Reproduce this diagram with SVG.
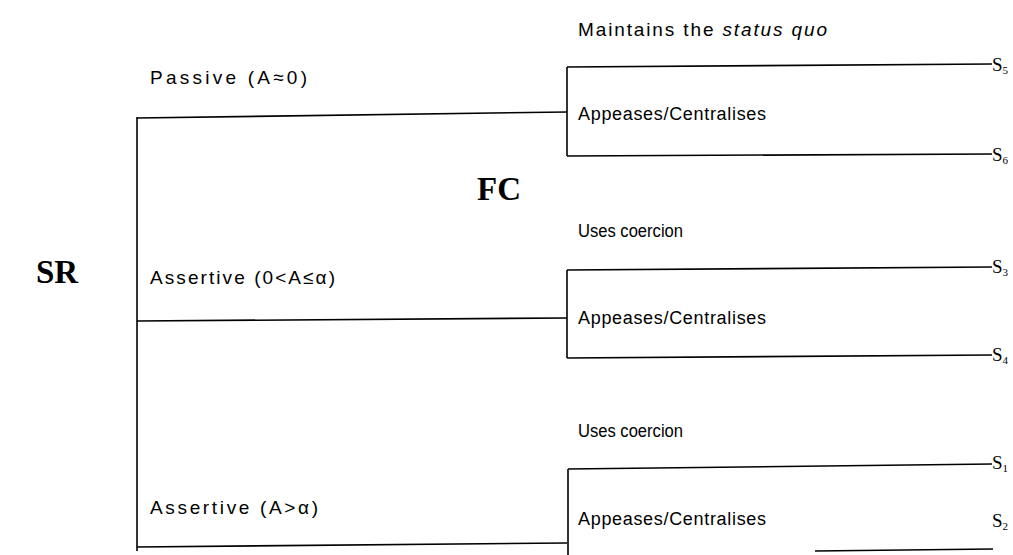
<svg xmlns="http://www.w3.org/2000/svg" width="1013" height="555" viewBox="0 0 1013 555">
<style>
.ln{stroke:#000;stroke-width:1.6;fill:none}
.lbl{font-family:"Liberation Sans",Arial,sans-serif;font-size:18px;fill:#000}
.wide{font-size:19px}
.big{font-family:"Liberation Serif","Times New Roman",serif;font-size:33px;font-weight:bold;fill:#000}
.s{font-family:"Liberation Serif","Times New Roman",serif;font-size:19px;fill:#000}
.sub{font-size:11px}
</style>
<rect width="1013" height="555" fill="#fff"/>
<g id="connectors">
<line class="ln" x1="137" y1="117" x2="137" y2="551"/>
<line class="ln" x1="137" y1="118" x2="567" y2="112"/>
<line class="ln" x1="137" y1="321" x2="567" y2="318"/>
<line class="ln" x1="137" y1="547" x2="567" y2="543"/>
<line class="ln" x1="567" y1="67" x2="567" y2="156"/>
<line class="ln" x1="567" y1="67" x2="992" y2="64"/>
<line class="ln" x1="567" y1="156" x2="992" y2="154"/>
<line class="ln" x1="567" y1="270" x2="567" y2="358"/>
<line class="ln" x1="567" y1="270" x2="992" y2="267"/>
<line class="ln" x1="567" y1="358" x2="992" y2="355"/>
<line class="ln" x1="568" y1="469" x2="568" y2="555"/>
<line class="ln" x1="568" y1="469" x2="992" y2="464"/>
<line class="ln" x1="815" y1="551" x2="993" y2="549"/>
</g>
<g id="SR"><text class="big" x="36" y="283">SR</text></g>
<g id="FC"><text class="big" x="477" y="200">FC</text></g>
<g id="passive"><text class="lbl wide" x="150" y="84" textLength="157" lengthAdjust="spacing">Passive (A≈0)</text></g>
<g id="assertive1"><text class="lbl wide" x="150" y="284" textLength="185" lengthAdjust="spacing">Assertive (0&lt;A≤α)</text></g>
<g id="assertive2"><text class="lbl wide" x="150" y="514" textLength="168" lengthAdjust="spacing">Assertive (A&gt;α)</text></g>
<g id="maintains"><text class="lbl wide" x="578" y="36" textLength="249" lengthAdjust="spacing">Maintains the <tspan font-style="italic">status quo</tspan></text></g>
<g id="appeases1"><text class="lbl" x="578" y="120" textLength="188" lengthAdjust="spacing">Appeases/Centralises</text></g>
<g id="coercion1"><text class="lbl" x="578" y="237" textLength="105" lengthAdjust="spacingAndGlyphs">Uses coercion</text></g>
<g id="appeases2"><text class="lbl" x="578" y="324" textLength="188" lengthAdjust="spacing">Appeases/Centralises</text></g>
<g id="coercion2"><text class="lbl" x="578" y="437" textLength="105" lengthAdjust="spacingAndGlyphs">Uses coercion</text></g>
<g id="appeases3"><text class="lbl" x="578" y="525" textLength="188" lengthAdjust="spacing">Appeases/Centralises</text></g>
<g id="S5"><text class="s" x="992" y="71">S<tspan class="sub" dy="3">5</tspan></text></g>
<g id="S6"><text class="s" x="992" y="161">S<tspan class="sub" dy="3">6</tspan></text></g>
<g id="S3"><text class="s" x="992" y="273">S<tspan class="sub" dy="3">3</tspan></text></g>
<g id="S4"><text class="s" x="992" y="361">S<tspan class="sub" dy="3">4</tspan></text></g>
<g id="S1"><text class="s" x="992" y="469">S<tspan class="sub" dy="3">1</tspan></text></g>
<g id="S2"><text class="s" x="992" y="527">S<tspan class="sub" dy="3">2</tspan></text></g>
</svg>
